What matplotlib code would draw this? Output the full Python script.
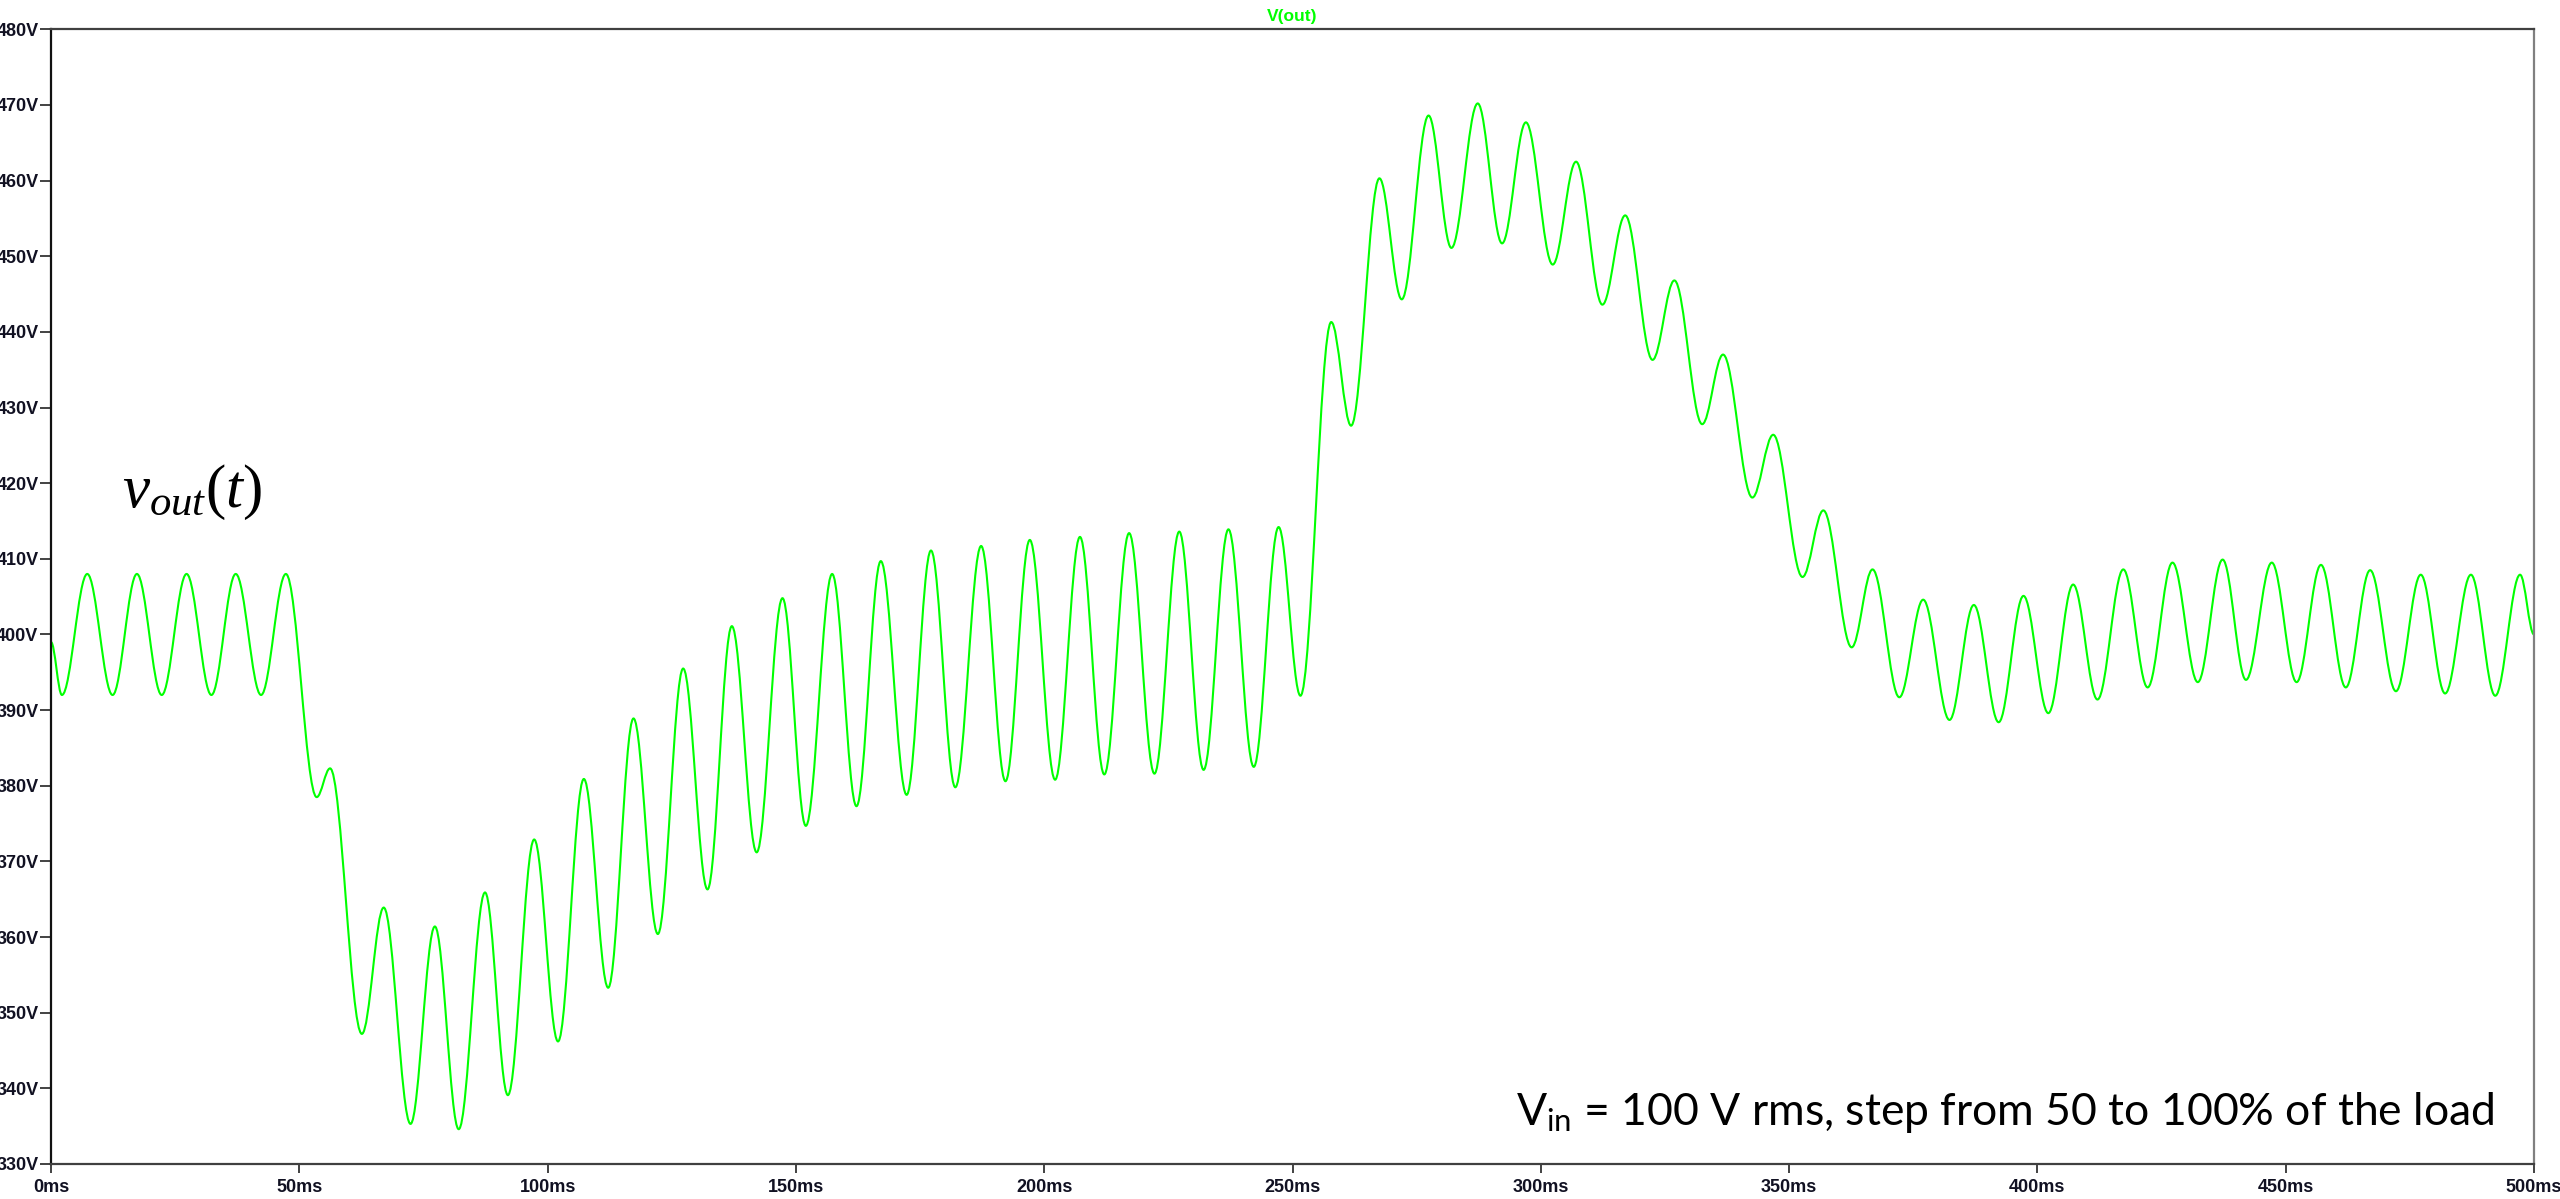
import matplotlib
matplotlib.use('Agg')
import matplotlib.pyplot as plt
from matplotlib.path import Path
from matplotlib.patches import PathPatch

# ---------------- data (extrema of V(out)) ----------------
t_ms = [0, 2.2, 7.3, 12.4, 17.3, 22.3, 27.3, 32.3, 37.2, 42.3, 47.3,
        53.5, 56.2, 62.6, 67.0, 72.4, 77.3, 82.1, 87.4, 92.0, 97.3,
        102.1, 107.3, 112.2, 117.3, 122.2, 127.3, 132.2, 137.1, 142.1, 147.3,
        152.0, 157.3, 162.2, 167.1, 172.3, 177.2, 182.1, 187.3, 192.2, 197.1,
        202.2, 207.2, 212.1, 217.1, 222.2, 227.2, 232.1, 237.1, 242.2, 247.2,
        251.6, 257.8, 261.8, 267.5, 272.0, 277.4, 282.0, 287.3, 292.2, 297.0,
        302.4, 307.1, 312.4, 317.0, 322.5, 326.9, 332.5, 336.7, 342.6, 346.8,
        352.7, 356.9, 362.6, 366.8, 372.2, 377.0, 382.3, 387.2, 392.2, 397.2,
        402.2, 407.2, 412.1, 417.3, 422.2, 427.2, 432.3, 437.3, 442.0, 447.2,
        452.2, 457.1, 462.1, 467.0, 472.2, 477.2, 482.1, 487.3, 492.2, 497.2,
        500.0]
v_out = [399.0, 392.0, 408.0, 392.0, 408.0, 392.0, 408.0, 392.0, 408.0, 392.0, 408.0,
         378.5, 382.3, 347.2, 363.9, 335.3, 361.4, 334.6, 365.9, 339.1, 372.9,
         346.2, 380.9, 353.3, 388.9, 360.4, 395.5, 366.3, 401.1, 371.2, 404.8,
         374.7, 408.0, 377.3, 409.7, 378.8, 411.1, 379.8, 411.7, 380.6, 412.5,
         380.8, 412.9, 381.5, 413.4, 381.6, 413.6, 382.1, 413.9, 382.5, 414.2,
         391.9, 441.3, 427.6, 460.3, 444.3, 468.6, 451.1, 470.2, 451.7, 467.7,
         448.9, 462.5, 443.6, 455.4, 436.3, 446.8, 427.8, 437.0, 418.1, 426.4,
         407.6, 416.4, 398.3, 408.6, 391.7, 404.6, 388.7, 403.9, 388.4, 405.1,
         389.6, 406.6, 391.4, 408.6, 393.0, 409.5, 393.7, 409.9, 394.0, 409.5,
         393.7, 409.2, 393.0, 408.5, 392.5, 407.9, 392.2, 407.9, 391.9, 407.9,
         400.0]

x_ticks = [0, 50, 100, 150, 200, 250, 300, 350, 400, 450, 500]
x_labels = ['0ms', '50ms', '100ms', '150ms', '200ms', '250ms', '300ms',
            '350ms', '400ms', '450ms', '500ms']
y_ticks = [330, 340, 350, 360, 370, 380, 390, 400, 410, 420, 430, 440, 450, 460, 470, 480]
y_labels = ['330V', '340V', '350V', '360V', '370V', '380V', '390V', '400V', '410V',
            '420V', '430V', '440V', '450V', '460V', '470V', '480V']

trace_name = 'V(out)'
curve_label = r'$v_{out}$($t$)'
note = r'V$_{\mathrm{in}}$ = 100 V rms, step from 50 to 100% of the load'

# ---------------- style ----------------
plt.rcParams['mathtext.fontset'] = 'custom'
plt.rcParams['mathtext.it'] = 'Liberation Serif:italic'
plt.rcParams['mathtext.rm'] = 'Lato'

GREEN = '#00ff00'
tick_font = ['Liberation Sans Narrow', 'Liberation Sans', 'DejaVu Sans']

fig = plt.figure(figsize=(25.6, 11.99), dpi=100)
fig.patch.set_facecolor('white')
ax = fig.add_axes([51 / 2560, 1 - 1164 / 1199, (2534 - 51) / 2560, (1164 - 29.3) / 1199])

# smooth trace through the extrema (horizontal tangents at each extremum)
k = 0.36
verts = [(t_ms[0], v_out[0])]
codes = [Path.MOVETO]
for i in range(len(t_ms) - 1):
    dt = t_ms[i + 1] - t_ms[i]
    verts += [(t_ms[i] + k * dt, v_out[i]), (t_ms[i + 1] - k * dt, v_out[i + 1]),
              (t_ms[i + 1], v_out[i + 1])]
    codes += [Path.CURVE4] * 3
ax.add_patch(PathPatch(Path(verts, codes), facecolor='none', edgecolor=GREEN,
                       lw=1.5, joinstyle='round', capstyle='round'))

ax.set_xlim(0, 500)
ax.set_ylim(330, 480)

ax.set_xticks(x_ticks)
ax.set_xticklabels(x_labels, fontfamily=tick_font, fontweight='bold', fontsize=13,
                   color='#111122')
ax.set_yticks(y_ticks)
ax.set_yticklabels(y_labels, fontfamily=tick_font, fontweight='bold', fontsize=13,
                   color='#111122')
ax.tick_params(axis='y', direction='out', length=8, width=1.2, pad=1, color='#222222')
ax.tick_params(axis='x', direction='out', length=6.5, width=1.2, pad=4, color='#222222')

ax.spines['left'].set_color('#111111')
ax.spines['left'].set_linewidth(1.6)
ax.spines['bottom'].set_color('#404040')
ax.spines['bottom'].set_linewidth(1.6)
ax.spines['top'].set_color('#404040')
ax.spines['top'].set_linewidth(1.6)
ax.spines['right'].set_color('#808080')
ax.spines['right'].set_linewidth(1.6)

fig.text(1292 / 2560, 1 - 16 / 1199, trace_name, color=GREEN, fontsize=12.5,
         fontweight='bold', family=['Liberation Sans', 'DejaVu Sans'],
         ha='center', va='center')

ax.text(14.3, 416.9, curve_label, family=['Liberation Serif', 'DejaVu Serif'],
        fontsize=44, ha='left', va='baseline', color='black')

ax.text(492.1, 335.2, note, family=['Lato', 'DejaVu Sans'], fontsize=32,
        ha='right', va='baseline', color='black')

fig.savefig('out.png', dpi=100, facecolor='white')
